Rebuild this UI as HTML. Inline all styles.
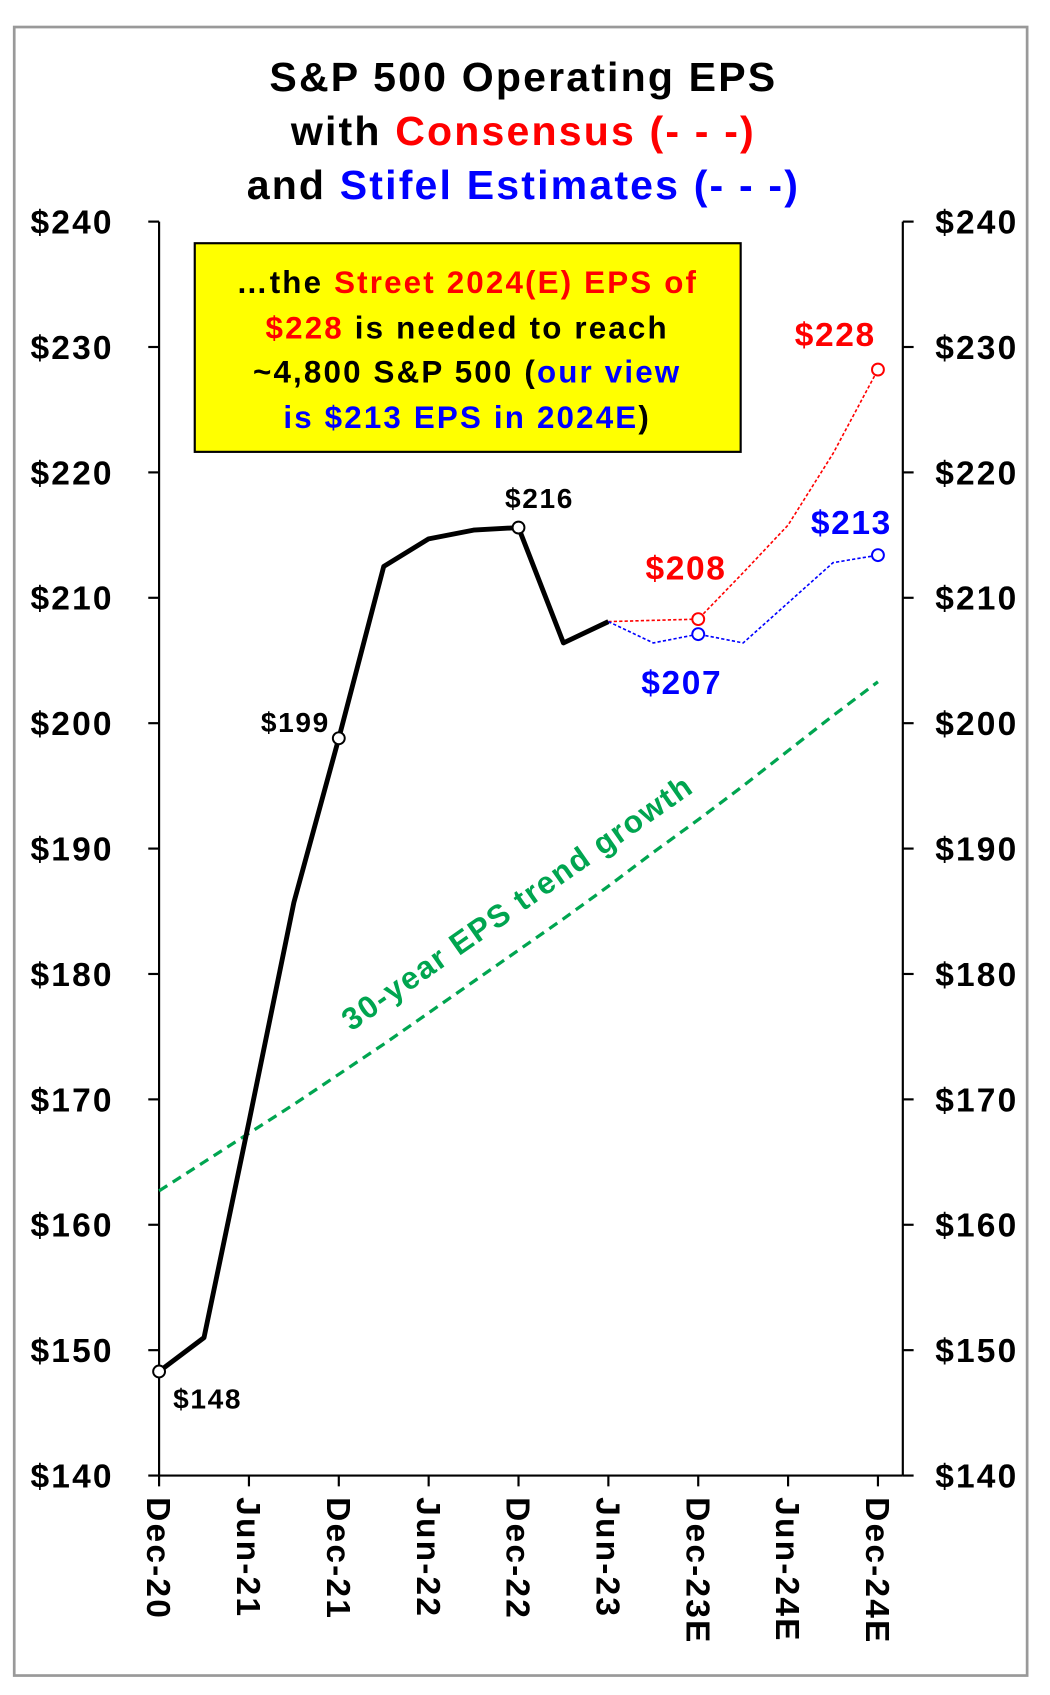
<!DOCTYPE html>
<html><head><meta charset="utf-8"><style>
html,body{margin:0;padding:0;background:#fff}
svg{display:block;font-family:"Liberation Sans",Arial,sans-serif;font-weight:bold}
</style></head><body>
<svg id="chart" width="1050" height="1695" viewBox="0 0 971 1568" xmlns="http://www.w3.org/2000/svg">
<rect x="13" y="25" width="937" height="1525" fill="#fff" stroke="#999" stroke-width="2.5"/>
<g text-anchor="middle" font-size="38" letter-spacing="2">
<text x="484" y="84">S&amp;P 500 Operating EPS</text>
<text x="484" y="134">with <tspan fill="#ff0000">Consensus (- - -)</tspan></text>
<text x="484" y="184">and <tspan fill="#0000ff">Stifel Estimates (- - -)</tspan></text>
</g>
<g>
<rect x="180" y="225" width="505" height="193" fill="#ffff00" stroke="#000" stroke-width="2"/>
<g text-anchor="middle" font-size="29" letter-spacing="2">
<text x="432" y="271">…the <tspan fill="#ff0000">Street 2024(E) EPS of</tspan></text>
<text x="432" y="313"><tspan fill="#ff0000">$228</tspan> is needed to reach</text>
<text x="432" y="354">~4,800 S&amp;P 500 (<tspan fill="#0000ff">our view</tspan></text>
<text x="432" y="396"><tspan fill="#0000ff">is $213 EPS in 2024E</tspan>)</text>
</g></g>
<g id="axes"></g>
<g id="marks"></g>
<g transform="translate(484,843) rotate(-35)"><text text-anchor="middle" font-size="29" letter-spacing="1.5" fill="#00a550">30-year EPS trend growth</text></g>
</svg>
<script>
const yTicks=[140,150,160,170,180,190,200,210,220,230,240];
const xLabels=["Dec-20","Jun-21","Dec-21","Jun-22","Dec-22","Jun-23","Dec-23E","Jun-24E","Dec-24E"];
const actual=[148.3,151.0,168.2,185.7,198.8,212.5,214.7,215.4,215.6,206.4,208.1];
const consensus=[208.1,208.2,208.3,212.0,215.8,221.5,228.2];
const stifel=[208.1,206.4,207.1,206.4,209.6,212.8,213.4];
const trend=[162.7,165.0,167.3,169.6,172.0,174.4,176.9,179.4,181.9,184.4,187.0,189.7,192.3,195.0,197.8,200.6,203.3];
const estStart=10;
const NS="http://www.w3.org/2000/svg";
const X0=147,X1=812,Y0=1365,Y1=205;
function xq(i){return X0+(X1-X0)*i/16;}
function yv(v){return Y0-(v-140)*(Y0-Y1)/100;}
function mk(tag,attrs,parent){const e=document.createElementNS(NS,tag);for(const k in attrs)e.setAttribute(k,attrs[k]);parent.appendChild(e);return e;}
const axes=document.getElementById('axes'),marks=document.getElementById('marks');
let e;
e=mk('line',{x1:X0,y1:Y1,x2:X0,y2:Y0,stroke:'#000','stroke-width':2},axes);


e=mk('line',{x1:835,y1:Y1,x2:835,y2:Y0,stroke:'#000','stroke-width':2},axes);


e=mk('line',{x1:X0,y1:Y0,x2:835,y2:Y0,stroke:'#000','stroke-width':2},axes);


yTicks.forEach(v=>{const y=yv(v);
 mk('line',{x1:137,y1:y,x2:X0,y2:y,stroke:'#000','stroke-width':2},axes);
 mk('line',{x1:835,y1:y,x2:845,y2:y,stroke:'#000','stroke-width':2},axes);
 e=mk('text',{x:105,y:y+11,'text-anchor':'end','font-size':31,'letter-spacing':2},axes);e.textContent='$'+v;
 
 
 e=mk('text',{x:865,y:y+11,'font-size':31,'letter-spacing':2},axes);e.textContent='$'+v;
 
 
});
xLabels.forEach((l,i)=>{const x=xq(i*2);
 mk('line',{x1:x,y1:Y0,x2:x,y2:Y0+10,stroke:'#000','stroke-width':2},axes);
 e=mk('text',{x:0,y:0,'font-size':31,'letter-spacing':2,transform:`translate(${x-11},1385) rotate(90)`},axes);e.textContent=l;
 
 
});
function pts(arr,off){return arr.map((v,i)=>xq(i+off)+','+yv(v)).join(' ');}
e=mk('polyline',{points:pts(trend,0),fill:'none',stroke:'#00a550','stroke-width':3,'stroke-dasharray':'9,6'},marks);


e=mk('polyline',{points:pts(consensus,estStart),fill:'none',stroke:'#ff0000','stroke-width':1.5,'stroke-dasharray':'3,2'},marks);


e=mk('polyline',{points:pts(stifel,estStart),fill:'none',stroke:'#0000ff','stroke-width':1.5,'stroke-dasharray':'3,2'},marks);


e=mk('polyline',{points:pts(actual,0),fill:'none',stroke:'#000','stroke-width':4.5,'stroke-linejoin':'round'},marks);


[[actual,0,0,'#000'],[actual,0,4,'#000'],[actual,0,8,'#000'],[consensus,estStart,2,'#ff0000'],[consensus,estStart,6,'#ff0000'],[stifel,estStart,2,'#0000ff'],[stifel,estStart,6,'#0000ff']].forEach(m=>{
 const i=m[2];e=mk('circle',{cx:xq(i+m[1]),cy:yv(m[0][i]),r:5.5,fill:'#fff',stroke:m[3],'stroke-width':1.8},marks);
 
 
});
[["$148",160,1303,'start',26,'#000'],["$199",305,677,'end',26,'#000'],["$216",467,470,'start',26,'#000'],
 ["$208",597,536,'start',31,'#ff0000'],["$207",593,642,'start',31,'#0000ff'],["$228",735,320,'start',31,'#ff0000'],["$213",750,494,'start',31,'#0000ff']].forEach(a=>{
 e=mk('text',{x:a[1],y:a[2],'text-anchor':a[3],'font-size':a[4],'letter-spacing':1.5,fill:a[5]},marks);e.textContent=a[0];
 
 
});
</script>
</body></html>
